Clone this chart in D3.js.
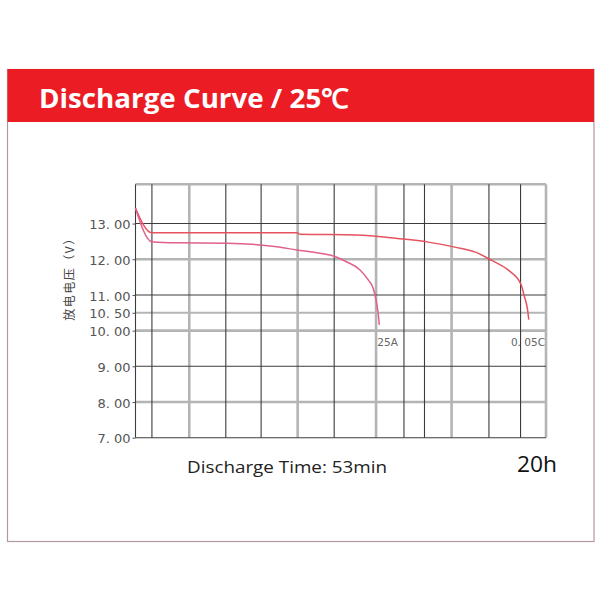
<!DOCTYPE html>
<html><head><meta charset="utf-8">
<script src="https://cdn.jsdelivr.net/npm/d3@7/dist/d3.min.js"></script>
<style>html,body{margin:0;padding:0;background:#fff;}</style>
</head><body>
<script>
// ---- data ----
const titleText = "Discharge Curve / 25℃";
const yAxisTitle = "放电电压（V）";
const yTicks = [7, 8, 9, 10, 10.5, 11, 12, 13];
const yTickLabels = ["7. 00", "8. 00", "9. 00", "10. 00", "10. 50", "11. 00", "12. 00", "13. 00"];
const yTop = 14.1;
// time-axis grid positions (relative time index 0..100)
const xGrid = [0, 4, 13.1, 22, 30.6, 39.5, 48.4, 58.6, 65.4, 70.4, 77, 86.1, 93.8, 100];
const xGridLight = [13.1, 39.5, 58.6, 77, 100];
const yGridLight = [8, 10, 10.5, 12, 14.1];
const seriesNames = ["25A", "0. 05C"];
// 25A discharge: time index / voltage
const s25A_t = [0, 3.95, 10, 22.2, 34.4, 39.3, 44.1, 48.2, 51.4, 54.7, 56.7, 57.9, 58.6, 59.1, 59.4];
const s25A_v = [13.43, 12.49, 12.46, 12.45, 12.35, 12.26, 12.18, 12.09, 11.93, 11.70, 11.42, 11.19, 10.86, 10.49, 10.16];
// 0.05C discharge
const s005_t = [0, 3.95, 39.3, 40.1, 53.9, 63.8, 71.3, 77.8, 82.8, 86.9, 91.0, 93.9, 94.7, 95.5, 95.8];
const s005_v = [13.43, 12.74, 12.74, 12.70, 12.68, 12.58, 12.48, 12.34, 12.20, 11.96, 11.68, 11.30, 10.97, 10.59, 10.31];
const bottomLeftText = "Discharge Time: 53min";
const bottomRightText = "20h";

// ---- drawing ----
const svg = d3.select("body").append("svg").attr("width", 600).attr("height", 600);

// outer card
svg.append("rect").attr("x", 7.5).attr("y", 69.5).attr("width", 586.5).attr("height", 472)
  .attr("fill", "#fff").attr("stroke", "#b0989f").attr("stroke-width", 1.2);
svg.append("rect").attr("x", 7.5).attr("y", 69).attr("width", 586.5).attr("height", 53)
  .attr("fill", "#ec1c24");
svg.append("text").attr("x", 39).attr("y", 107.5)
  .attr("font-family", "'Open Sans', sans-serif").attr("font-weight", 700)
  .attr("font-size", 27).attr("fill", "#fff")
  .attr("textLength", 310).attr("lengthAdjust", "spacingAndGlyphs")
  .text(titleText);

const x = d3.scaleLinear().domain([0, 100]).range([135.5, 546]);
const y = d3.scaleLinear().domain([7, yTop]).range([437.7, 184.3]);

const g = svg.append("g");
const hLines = yTicks.concat([yTop]);
const isLightX = d => xGridLight.includes(d);
const isLightY = d => yGridLight.includes(d);

// light (thick gray) lines first
g.selectAll(".vl").data(xGrid.filter(isLightX)).join("line")
  .attr("x1", d => x(d)).attr("x2", d => x(d)).attr("y1", y(yTop)).attr("y2", y(7))
  .attr("stroke", "#b4b4b4").attr("stroke-width", 2.6);
g.selectAll(".hl").data(hLines.filter(isLightY)).join("line")
  .attr("x1", x(0)).attr("x2", x(100)).attr("y1", d => y(d)).attr("y2", d => y(d))
  .attr("stroke", "#b4b4b4").attr("stroke-width", d => d === 10.5 ? 2 : 2.6);
// dark thin lines
g.selectAll(".vd").data(xGrid.filter(d => !isLightX(d))).join("line")
  .attr("x1", d => x(d)).attr("x2", d => x(d)).attr("y1", y(yTop)).attr("y2", y(7))
  .attr("stroke", "#3c3c3c").attr("stroke-width", 1.1);
g.selectAll(".hd").data(hLines.filter(d => !isLightY(d))).join("line")
  .attr("x1", x(0)).attr("x2", x(100)).attr("y1", d => y(d)).attr("y2", d => y(d))
  .attr("stroke", "#3c3c3c").attr("stroke-width", 1.1);

// y axis ticks + labels
const yAxis = d3.axisLeft(y).tickValues(yTicks)
  .tickFormat((d, i) => yTickLabels[i]).tickSize(3).tickPadding(2);
const ya = svg.append("g").attr("transform", `translate(${x(0)},0)`).call(yAxis);
ya.select(".domain").remove();
ya.selectAll(".tick line").attr("stroke", "#555");
ya.selectAll(".tick text").attr("font-family", "'DejaVu Sans', sans-serif")
  .attr("font-size", 13).attr("fill", "#555").attr("dy", "0.4em");

// y axis title
svg.append("text").attr("transform", `translate(74,276) rotate(-90)`)
  .attr("text-anchor", "middle")
  .attr("font-family", "'Noto Sans CJK SC', sans-serif").attr("font-size", 12)
  .attr("letter-spacing", 1.5).attr("fill", "#444")
  .text(yAxisTitle);

// curves
const line = d3.line().x(d => x(d[0])).y(d => y(d[1])).curve(d3.curveMonotoneX);
const s25A = s25A_t.map((t, i) => [t, s25A_v[i]]);
const s005 = s005_t.map((t, i) => [t, s005_v[i]]);
svg.append("path").datum(s005).attr("d", line).attr("fill", "none")
  .attr("stroke", "#e5535e").attr("stroke-width", 1.5);
svg.append("path").datum(s25A).attr("d", line).attr("fill", "none")
  .attr("stroke", "#e0608e").attr("stroke-width", 1.5);

// series labels
const last25 = s25A[s25A.length - 1];
svg.append("text").attr("x", x(last25[0]) - 2).attr("y", y(10) + 15)
  .attr("font-family", "'DejaVu Sans', sans-serif").attr("font-size", 10.5)
  .attr("fill", "#666").text(seriesNames[0]);
svg.append("text").attr("x", x(100) - 1).attr("y", y(10) + 15).attr("text-anchor", "end")
  .attr("font-family", "'DejaVu Sans', sans-serif").attr("font-size", 10.5)
  .attr("fill", "#666").text(seriesNames[1]);

// bottom texts
svg.append("text").attr("x", 187).attr("y", 473)
  .attr("font-family", "'Open Sans', sans-serif").attr("font-size", 17)
  .attr("fill", "#222").attr("textLength", 200).attr("lengthAdjust", "spacingAndGlyphs")
  .text(bottomLeftText);
svg.append("text").attr("x", 517).attr("y", 472)
  .attr("font-family", "'Open Sans', sans-serif").attr("font-size", 22)
  .attr("fill", "#111").attr("textLength", 40).attr("lengthAdjust", "spacingAndGlyphs")
  .text(bottomRightText);
</script>
</body></html>
